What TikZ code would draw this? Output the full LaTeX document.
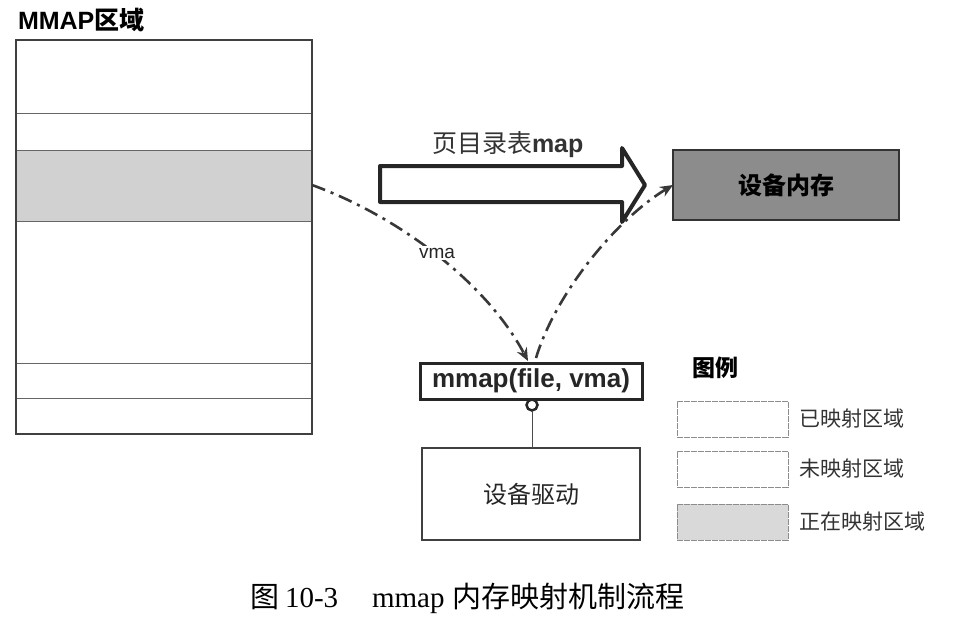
\documentclass[tikz,border=0pt]{standalone}
\usepackage{fontspec}
\setmainfont{Liberation Sans}
\newfontfamily\cjk{Noto Sans CJK SC}
\newfontfamily\capserif{Liberation Serif}
\usetikzlibrary{arrows.meta}
\begin{document}
\begin{tikzpicture}[x=1pt,y=-1pt,
  every node/.style={inner sep=0pt, outer sep=0pt},
  region/.style={draw=black!75, line width=1.2pt},
  sep/.style={draw=black!60, line width=0.7pt},
  legbox/.style={draw=black!45, line width=0.6pt, dash pattern=on 6pt off 1pt},
  dashdot/.style={draw=black!78, line width=2.6pt, dash pattern=on 14pt off 6pt on 3pt off 6pt, -{Stealth[length=13pt,width=11pt]}},
  band/.style={fill=black!18},
  boldbox/.style={draw=black!85, line width=3pt, fill=white},
  lbl/.style={font=\fontsize{21}{24}\selectfont\cjk, text=black!80, anchor=west},
  capt/.style={anchor=base west, font=\fontsize{29}{32}\selectfont}
]
\useasboundingbox (0,0) rectangle (963,623);

% title
\node[anchor=west] (title) at (18,20) {\fontsize{25}{28}\selectfont\bfseries MMAP{\cjk\bfseries 区域}};

% MMAP region
\node[region, minimum width=296, minimum height=394, anchor=north west] (mmaprect) at (16,40) {};
\fill[band] (17,150) rectangle (312,221);
\coordinate (bandR) at (312,185);
\draw[sep] (16,113) -- (312,113);
\draw[sep] (16,150) -- (312,150);
\draw[sep] (16,221) -- (312,221);
\draw[sep] (16,363) -- (312,363);
\draw[sep] (16,398) -- (312,398);
\draw[region] (mmaprect.north west) rectangle (mmaprect.south east);

% big hollow arrow
\draw[draw=black!85, line width=4pt, line join=round, fill=white]
  (380,166) -- (622,166) -- (622,148) -- (645,185) -- (622,222) -- (622,202) -- (380,202) -- cycle;
\node[anchor=base west, text=black!80] (arrlbl) at (432,153) {\fontsize{25}{27}\selectfont{\cjk 页目录表}\bfseries map};

% device memory
\node[draw=black!80, line width=2.5pt, fill=black!45, minimum width=226, minimum height=70, anchor=north west] (devmem) at (673,150) {\fontsize{24}{26}\selectfont\cjk\bfseries 设备内存};

% mmap box
\node[boldbox, minimum width=222, minimum height=36, anchor=north west, text=black!85] (mmap) at (420,363) {\fontsize{26}{28}\selectfont\bfseries mmap(file, vma)};

% device driver
\node[draw=black!75, line width=1.2pt, minimum width=218, minimum height=92, anchor=north west, text=black!85] (driver) at (422,448) {\fontsize{24}{26}\selectfont\cjk 设备驱动};

% circle connector
\node[circle, draw=black!85, line width=2.5pt, fill=white, minimum size=11pt] (joint) at (532,405) {};
\draw[black!70, line width=0.8pt] (joint.south) -- (driver.north -| joint.south);

% dash-dot connectors
\coordinate (mmapIn) at (528,361);
\coordinate (mmapOut) at (536,358);
\draw[dashdot] (bandR) .. controls (395,215) and (485,280) .. (mmapIn);
\draw[dashdot] (mmapOut) .. controls (555,295) and (615,220) .. (devmem.west);
\node[fill=white, inner sep=2pt, text=black!85] (vma) at (437,253) {\fontsize{19}{21}\selectfont vma};

% legend
\node[anchor=west] (legtitle) at (692,368) {\fontsize{23}{26}\selectfont\cjk\bfseries 图例};
\node[legbox, minimum width=111, minimum height=36, anchor=north west] (leg1) at (677,401) {};
\node[legbox, minimum width=111, minimum height=36, anchor=north west] (leg2) at (677,451) {};
\node[legbox, fill=black!15, minimum width=111, minimum height=36, anchor=north west] (leg3) at (677,504) {};
\node[lbl] (l1) at (799,419) {已映射区域};
\node[lbl] (l2) at (799,469) {未映射区域};
\node[lbl] (l3) at (799,522) {正在映射区域};

% caption
\node[capt] (cap1) at (250,607) {\cjk 图};
\node[capt] (cap2) at (285,607) {\capserif 10-3};
\node[capt] (cap3) at (372,607) {\capserif mmap};
\node[capt] (cap4) at (452,607) {\cjk 内存映射机制流程};
\end{tikzpicture}
\end{document}
